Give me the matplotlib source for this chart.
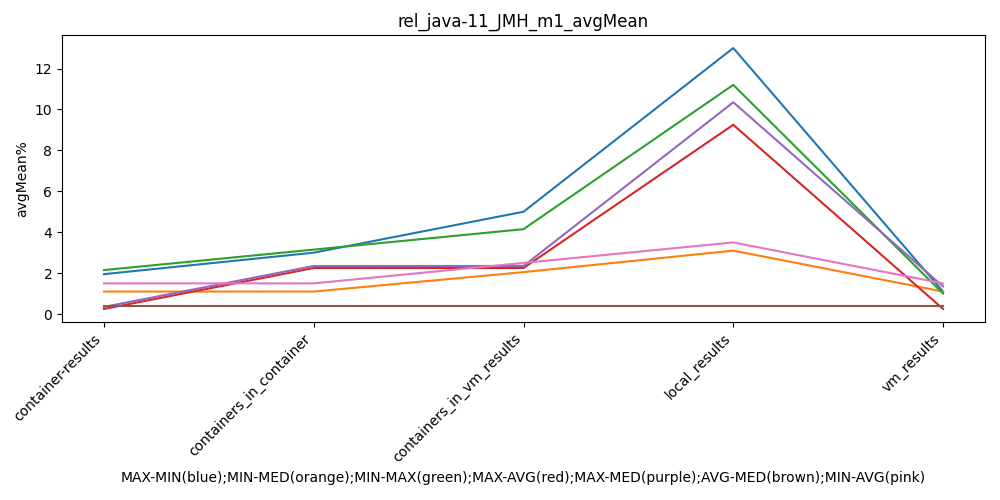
import matplotlib
matplotlib.use("Agg")
import matplotlib.pyplot as plt

# environments on the x axis
envs = ["container-results", "containers_in_container", "containers_in_vm_results",
        "local_results", "vm_results"]

# series values (avgMean %)
max_min = [1.95, 3.0, 5.0, 13.0, 1.1]
min_med = [1.1, 1.1, 2.05, 3.1, 1.1]
min_max = [2.15, 3.15, 4.15, 11.2, 1.0]
max_avg = [0.25, 2.25, 2.25, 9.25, 0.25]
max_med = [0.35, 2.35, 2.35, 10.35, 1.35]
avg_med = [0.4, 0.4, 0.4, 0.4, 0.4]
min_avg = [1.5, 1.5, 2.5, 3.5, 1.5]

fig = plt.figure(figsize=(10, 5), dpi=100)
ax = fig.add_subplot(111)
for series in [max_min, min_med, min_max, max_avg, max_med, avg_med, min_avg]:
    ax.plot(envs, series)

ax.set_title("rel_java-11_JMH_m1_avgMean")
ax.set_ylabel("avgMean%")
ax.set_xlabel("MAX-MIN(blue);MIN-MED(orange);MIN-MAX(green);MAX-AVG(red);"
              "MAX-MED(purple);AVG-MED(brown);MIN-AVG(pink)")
plt.setp(ax.get_xticklabels(), rotation=45, ha="right")
fig.subplots_adjust(left=0.062, right=0.985, top=0.93, bottom=0.356)
fig.savefig("out.png")
